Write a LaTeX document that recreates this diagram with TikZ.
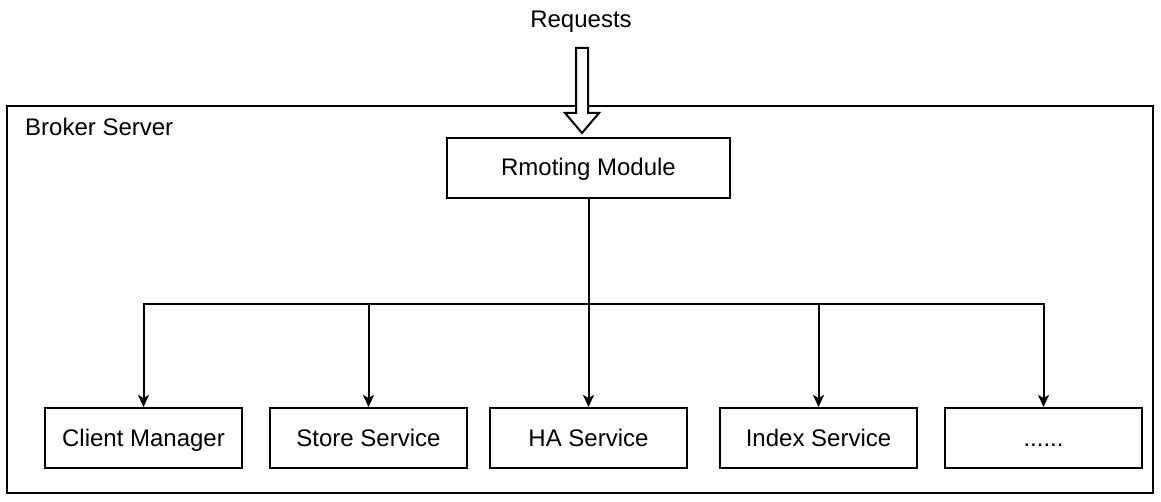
\documentclass[tikz,border=0pt]{standalone}
\usepackage{fontspec}
\setmainfont{Liberation Sans}
\usepackage{tikz}
\usetikzlibrary{arrows.meta,positioning,calc}

\begin{document}
\begin{tikzpicture}[x=1pt,y=-1pt,
   box/.style={draw,line width=2pt,minimum width=197pt,minimum height=60pt,inner sep=0pt,
     text height=18pt,text depth=2pt,font=\fontsize{24}{28}\selectfont},
   lbl/.style={inner sep=0pt,text height=18pt,text depth=2pt,font=\fontsize{24}{28}\selectfont},
   arr/.style={-{Stealth[length=12pt,width=11pt,inset=3pt]},line width=2pt}]
  \useasboundingbox (0,0) rectangle (1161,502);
  % outer frame
  \draw[line width=2.2pt] (7,106) rectangle (1153,493);
  \node[lbl,anchor=west] (bs) at (25,128) {Broker Server};
  \node[lbl] (req) at (581,20) {Requests};
  \node[box,minimum width=283pt] (rm) at (588.5,168) {Rmoting Module};
  % services
  \node[box] (cm) at (143.5,438) {Client Manager};
  \node[box] (ss) at (368.5,438) {Store Service};
  \node[box] (ha) at (588.5,438) {HA Service};
  \node[box] (is) at (818.5,438) {Index Service};
  \node[box] (more) at (1043.5,438) {......};
  % hollow request arrow
  \coordinate (tail) at (582,48);
  \coordinate (tip) at (582,133);
  \draw[line width=2pt,fill=white] ($(tail)+(-6,0)$) -- ($(tail)+(6,0)$) -- ($(tip)+(6,-20)$)
    -- ($(tip)+(17,-20)$) -- (tip) -- ($(tip)+(-17,-20)$) -- ($(tip)+(-6,-20)$) -- cycle;
  % bus
  \coordinate (hub) at ($(rm.south)+(0,105)$);
  \draw[line width=2pt] (rm.south) -- (hub);
  \foreach \t in {cm,ss,ha,is,more}
    \draw[arr] (hub) -| (\t.north);
\end{tikzpicture}
\end{document}
